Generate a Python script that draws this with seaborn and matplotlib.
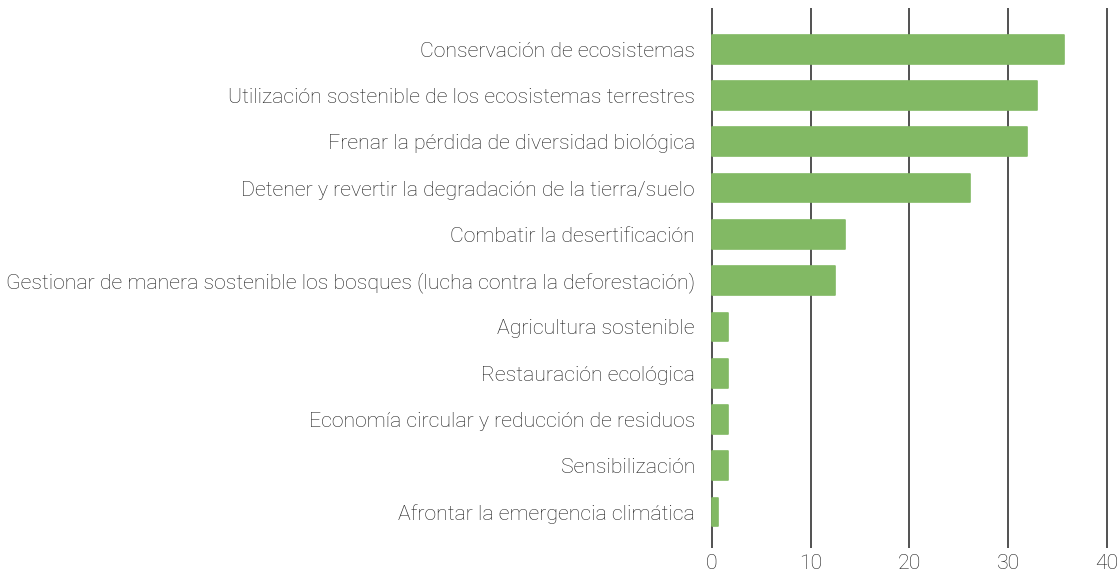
import matplotlib
matplotlib.use('Agg')
import matplotlib.pyplot as plt
import seaborn as sns
import pandas as pd

categories = [
    'Conservación de ecosistemas',
    'Utilización sostenible de los ecosistemas terrestres',
    'Frenar la pérdida de diversidad biológica',
    'Detener y revertir la degradación de la tierra/suelo',
    'Combatir la desertificación',
    'Gestionar de manera sostenible los bosques (lucha contra la deforestación)',
    'Agricultura sostenible',
    'Restauración ecológica',
    'Economía circular y reducción de residuos',
    'Sensibilización',
    'Afrontar la emergencia climática',
]
values = [35.7, 32.9, 31.9, 26.1, 13.5, 12.5, 1.6, 1.6, 1.6, 1.6, 0.6]
x_ticks = [0, 10, 20, 30, 40]

df = pd.DataFrame({'categoria': categories, 'valor': values})

sns.set_style('white')
plt.rcParams['font.family'] = ['Roboto', 'DejaVu Sans']

fig = plt.figure(figsize=(11.2, 5.74), dpi=100)
ax = fig.add_axes([0.633, 0.045, 0.358, 0.941])

sns.barplot(data=df, x='valor', y='categoria', color='#82b964',
            saturation=1, width=0.62, orient='h', ax=ax)

for bar in ax.patches:
    bar.set_edgecolor('#82b964')
    bar.set_linewidth(1.2)
    bar.set_joinstyle('round')
    bar.set_zorder(2)

ax.set_xlim(-0.3, 40.3)
ax.set_ylim(len(categories) - 0.22, -0.89)
ax.set_xticks(x_ticks)
ax.xaxis.grid(True, color='#222222', linewidth=1.1)
for line in ax.get_xgridlines():
    line.set_zorder(1)

ax.set_xlabel('')
ax.set_ylabel('')
for s in ax.spines.values():
    s.set_visible(False)

ax.tick_params(axis='y', length=0, pad=10, labelsize=15.3, labelcolor='#1e1e1e')
ax.tick_params(axis='x', length=0, pad=4, labelsize=15.3, labelcolor='#1e1e1e')
for lbl in ax.get_yticklabels() + ax.get_xticklabels():
    lbl.set_fontweight('light')

plt.savefig('out.png', dpi=100)
plt.close()
